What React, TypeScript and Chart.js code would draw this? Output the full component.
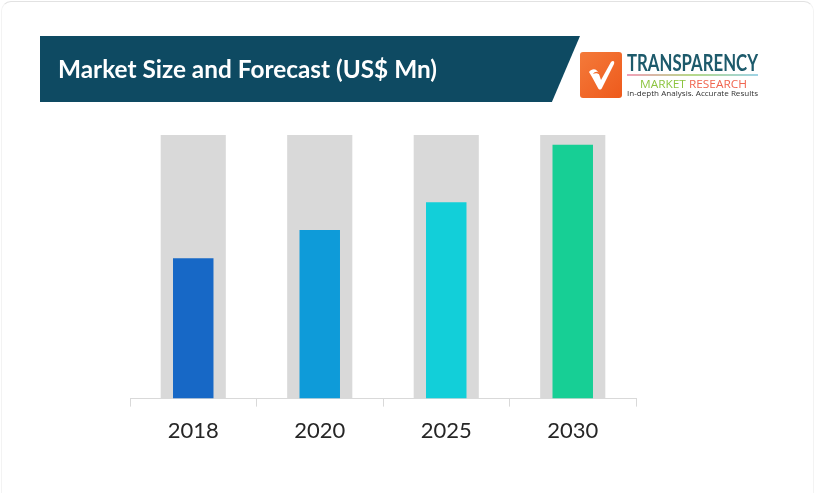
import React, { useEffect, useLayoutEffect, useRef } from "react";
import { Chart, registerables } from "chart.js";

Chart.register(...registerables);

const years = ["2018", "2020", "2025", "2030"];
const marketValues = [53.2, 64.0, 74.5, 96.3];
const scaleMax = [100, 100, 100, 100];
const barColors = ["#1768c6", "#0e9bd9", "#12cfd9", "#17cf95"];
const trackColor = "#d9d9d9";

function FitText(props: { width: number; style: React.CSSProperties; children: React.ReactNode }) {
  const ref = useRef<HTMLSpanElement | null>(null);
  useLayoutEffect(() => {
    const el = ref.current;
    if (!el) return;
    el.style.transform = "none";
    const w = el.getBoundingClientRect().width;
    if (w > 0) el.style.transform = `scaleX(${props.width / w})`;
  }, [props.width]);
  return (
    <span
      ref={ref}
      style={{
        ...props.style,
        position: "absolute",
        display: "inline-block",
        whiteSpace: "nowrap",
        transformOrigin: "0 0",
      }}
    >
      {props.children}
    </span>
  );
}

export default function App() {
  const canvasRef = useRef<HTMLCanvasElement | null>(null);

  useEffect(() => {
    document.body.style.margin = "0";
    const canvas = canvasRef.current;
    if (!canvas) return;
    const chart = new Chart(canvas, {
      type: "bar",
      data: {
        labels: years,
        datasets: [
          {
            label: "Market Size",
            data: marketValues,
            backgroundColor: barColors,
            barPercentage: 0.32,
            categoryPercentage: 1,
            grouped: false,
            order: 0,
          } as any,
          {
            label: "Track",
            data: scaleMax,
            backgroundColor: trackColor,
            barPercentage: 0.515,
            categoryPercentage: 1,
            grouped: false,
            order: 1,
          } as any,
        ],
      },
      options: {
        animation: false,
        responsive: false,
        maintainAspectRatio: false,
        devicePixelRatio: 1,
        layout: { padding: { left: 130, right: 181, top: 135, bottom: 38 } },
        plugins: { legend: { display: false }, tooltip: { enabled: false } },
        scales: {
          x: {
            grid: {
              drawOnChartArea: false,
              drawTicks: true,
              tickLength: 8,
              color: "#d9d9d9",
            },
            border: { display: true, color: "#d9d9d9", width: 1 },
            ticks: {
              color: "#262626",
              padding: 11,
              font: { family: "Lato", size: 22 },
            },
          },
          y: { display: false, min: 0, max: 100 },
        },
      },
    });
    return () => chart.destroy();
  }, []);

  return (
    <div
      style={{
        position: "fixed",
        left: 0,
        top: 0,
        width: 817,
        height: 493,
        background: "#ffffff",
        overflow: "hidden",
      }}
    >
      <div
        style={{
          position: "absolute",
          left: 1,
          top: 1,
          width: 813,
          height: 560,
          borderTop: "1px solid #e2e2e2",
          borderLeft: "1px solid #f3f3f3",
          borderRight: "1px solid #f3f3f3",
          borderRadius: 10,
          boxSizing: "border-box",
        }}
      />
      <canvas
        ref={canvasRef}
        width={817}
        height={493}
        style={{ position: "absolute", left: 0, top: 0, width: 817, height: 493 }}
      />
      {/* title banner */}
      <div
        style={{
          position: "absolute",
          left: 40,
          top: 36,
          width: 540,
          height: 66,
          background: "#0e4a62",
          clipPath: "polygon(0 0, 100% 0, 94.8% 100%, 0 100%)",
        }}
      />
      <FitText
        width={379}
        style={{
          left: 58,
          top: 54,
          fontFamily: "Lato, sans-serif",
          fontWeight: 700,
          fontSize: 24,
          color: "#ffffff",
          lineHeight: "30px",
        }}
      >
        Market Size and Forecast (US$ Mn)
      </FitText>
      {/* logo */}
      <div
        style={{
          position: "absolute",
          left: 580,
          top: 52,
          width: 42,
          height: 46,
          borderRadius: 3,
          background: "linear-gradient(135deg, #f47a3a, #ee5a1c)",
        }}
      >
        <svg width="42" height="46" viewBox="0 0 42 46">
          <path
            d="M9 20 C12 16 17 16 19 22 L21 28 L31 10 C33 8 35 9 34 12 L22 36 C21 38 19 38 18 36 L12 25 C11 23 10 22 9 20 Z"
            fill="#ffffff"
          />
          <path d="M13 22 C15 19 19 19 20 23 C18 21 15 21 13 22 Z" fill="#f26b2a" />
        </svg>
      </div>
      <FitText
        width={131}
        style={{
          left: 627,
          top: 49,
          fontFamily: "Lato, sans-serif",
          fontWeight: 700,
          fontSize: 23,
          color: "#1d5a6b",
          lineHeight: "26px",
        }}
      >
        TRANSPARENCY
      </FitText>
      <div
        style={{
          position: "absolute",
          left: 627,
          top: 74,
          width: 131,
          height: 2,
          background: "linear-gradient(90deg, #f1a0b8, #b7d98a, #9fd3e6)",
        }}
      />
      <FitText
        width={107}
        style={{
          left: 640,
          top: 77,
          fontFamily: "'Open Sans', sans-serif",
          fontSize: 11,
          lineHeight: "13px",
        }}
      >
        <span style={{ color: "#8cc43f" }}>MARKET</span>{" "}
        <span style={{ color: "#f0654f" }}>RESEARCH</span>
      </FitText>
      <FitText
        width={131}
        style={{
          left: 627,
          top: 88,
          fontFamily: "'Open Sans', sans-serif",
          fontSize: 8,
          lineHeight: "10px",
          color: "#333333",
        }}
      >
        In-depth Analysis. Accurate Results
      </FitText>
    </div>
  );
}
